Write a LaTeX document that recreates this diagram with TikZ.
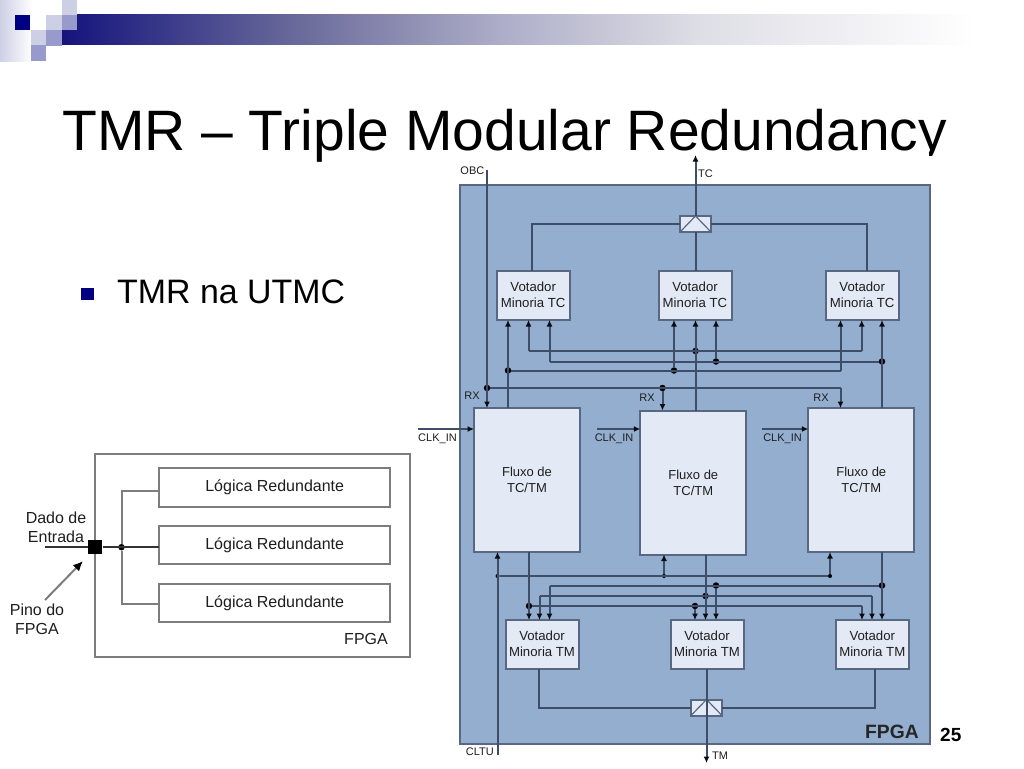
\documentclass[tikz,border=0pt]{standalone}
\usepackage{fontspec}
\setmainfont{Liberation Sans}
\usetikzlibrary{arrows.meta}
\definecolor{navyb}{RGB}{0,0,128}
\definecolor{g0}{RGB}{20,20,125}
\definecolor{g1}{RGB}{107,107,155}
\definecolor{g2}{RGB}{173,173,200}
\definecolor{g3}{RGB}{222,222,230}
\definecolor{paleb}{RGB}{205,207,229}
\definecolor{midb}{RGB}{152,154,204}
\definecolor{fpgab}{RGB}{148,174,208}
\definecolor{boxf}{RGB}{227,234,245}
\definecolor{wire}{RGB}{62,78,104}
\definecolor{boxl}{RGB}{88,104,130}
\definecolor{graywire}{RGB}{125,125,125}
\definecolor{txt}{RGB}{30,30,30}
\tikzset{
 box/.style={draw=boxl,line width=2pt,fill=boxf,inner sep=0pt,outer sep=0pt,align=center,text=txt},
 votetxt/.style={inner sep=0pt,align=center,text=txt,font=\fontsize{13.2}{16}\selectfont,yshift=1pt},
 votebox/.style={box,minimum width=73pt,minimum height=49pt},
 fluxbox/.style={box,minimum width=106pt,minimum height=144pt,font=\fontsize{13}{16}\selectfont},
 muxbox/.style={box,minimum width=31pt,minimum height=16pt},
 lab/.style={inner sep=0pt,text=txt,font=\fontsize{11}{12}\selectfont},
 wr/.style={draw=wire,line width=2pt},
 ar/.style={wr,-{Latex[length=6.5pt,width=6pt,color=black!85!wire]}},
 jn/.style={circle,fill=black,inner sep=0pt,minimum size=6.5pt},
 sj/.style={circle,fill=black,inner sep=0pt,minimum size=4pt},
 lrbox/.style={draw=graywire,line width=2pt,fill=white,inner sep=0pt,outer sep=0pt,minimum width=230.5pt,minimum height=38.5pt,text=txt,font=\fontsize{16}{18}\selectfont},
 ltxt/.style={inner sep=0pt,align=center,text=txt,font=\fontsize{16}{19.5}\selectfont},
 gw/.style={draw=graywire,line width=2pt},
 sq/.style={inner sep=0pt,minimum size=15.5pt,outer sep=0pt},
}
\begin{document}
\begin{tikzpicture}[x=1pt,y=-1pt]
\useasboundingbox (0,0) rectangle (1024,768);
\fill[white] (0,0) rectangle (1024,768);
% header
\shade[left color=paleb,right color=white] (0,0) rectangle (32,61);
\shade[left color=g0,right color=g1] (62,15) rectangle (300,45);
\shade[left color=g1,right color=g2] (300,15) rectangle (500,45);
\shade[left color=g2,right color=g3] (500,15) rectangle (700,45);
\shade[left color=g3,right color=white] (700,15) rectangle (975,45);
\node[sq,fill=navyb] (s1) at (22.5,22.5) {};
\node[sq,fill=white] (s0) at (38.5,22.5) {};
\node[sq,fill=paleb] (s2) at (54,22.5) {};
\node[sq,fill=paleb] (s3) at (69.5,7.5) {};
\node[sq,fill=midb] (s4) at (69.5,22.5) {};
\node[sq,fill=paleb] (s5) at (38.5,38) {};
\node[sq,fill=midb] (s6) at (54,38) {};
\node[sq,fill=midb] (s7) at (38.5,53) {};
% title
\node[anchor=base west,inner sep=0pt,font=\fontsize{57}{60}\selectfont] (title) at (62,150) {TMR – Triple Modular Redundancy};
\node[sq,fill=navyb,minimum size=12.5pt] (bul) at (87.5,294) {};
\node[anchor=base west,inner sep=0pt,font=\fontsize{33.9}{38}\selectfont] (tmr) at (117,303) {TMR na UTMC};
% white cover of picture
\fill[white] (430,153) rectangle (928.5,185);
\fill[white] (928.5,155.5) rectangle (945,185);
% ===== right diagram
\draw[draw=boxl,line width=2pt,fill=fpgab] (460,185) rectangle (930,744);
\node[anchor=base east,inner sep=0pt,font=\bfseries\fontsize{19.3}{20}\selectfont,text=black!85] (fpgal) at (919,738) {FPGA};
\node[anchor=base west,inner sep=0pt,font=\bfseries\fontsize{19}{20}\selectfont] (pg) at (940,741) {25};
\node[votebox,label={[votetxt]center:Votador\\Minoria TC}] (tc1) at (533.2,295.5) {};
\node[votebox,label={[votetxt]center:Votador\\Minoria TC}] (tc2) at (695,295.5) {};
\node[votebox,label={[votetxt]center:Votador\\Minoria TC}] (tc3) at (862.2,295.5) {};
\node[fluxbox] (f1) at (527,480) {Fluxo de\\TC/TM};
\node[fluxbox] (f2) at (693.3,482.5) {Fluxo de\\TC/TM};
\node[fluxbox] (f3) at (861.3,480) {Fluxo de\\TC/TM};
\node[votebox,label={[votetxt]center:Votador\\Minoria TM}] (tm1) at (542,644.5) {};
\node[votebox,label={[votetxt]center:Votador\\Minoria TM}] (tm2) at (707,644.5) {};
\node[votebox,label={[votetxt]center:Votador\\Minoria TM}] (tm3) at (872.3,644.5) {};
\node[muxbox] (mc) at (695.5,224) {};
\node[muxbox] (mm) at (706.5,707.5) {};
% mux triangles
\draw[draw=boxl,line width=1.2pt] (mc.south west) -- (mc.north) -- (mc.south east);
\draw[draw=boxl,line width=1.2pt] (mm.south west) -- (mm.north) -- (mm.south east);
% free ends
\coordinate (tcend) at (695.5,155);
\coordinate (tmend) at (706.5,763);
\coordinate (obc) at (487,170);
\coordinate (cltu) at (497.5,755);
\coordinate (ck1) at (418,429);
\coordinate (ck2) at (597,429);
\coordinate (ck3) at (762,429);
% TC output network
\draw[ar] (mc.north) -- (tcend);
\draw[wr] (tc2.north -| mc) -- (mc.south);
\draw[wr] (tc1.north -| 532,0) |- (mc.west);
\draw[wr] (tc3.north -| 867,0) |- (mc.east);
% top junctions
\node[jn] (a1) at (508,370.5) {};
\node[jn] (a2) at (674,370.5) {};
\node[jn] (b1) at (695.5,351) {};
\node[jn] (c1) at (716,361.5) {};
\node[jn] (c2) at (882,361.5) {};
\node[jn] (r0) at (487,388) {};
\node[jn] (r1) at (662.5,388) {};
\coordinate (a3) at (840.5,370.5);
\coordinate (b0) at (528.5,351);
\coordinate (b2) at (861.7,351);
\coordinate (c0) at (549.5,361.5);
\coordinate (r2) at (840.5,388);
% buses
\draw[wr] (a1) -- (a3);
\draw[wr] (b0) -- (b2);
\draw[wr] (c0) -- (c2);
\draw[wr] (r0) -- (r2);
% vote TC inputs
\draw[ar] (f1.north -| a1) -- (tc1.south -| a1);
\draw[ar] (b0) -- (tc1.south -| b0);
\draw[ar] (c0) -- (tc1.south -| c0);
\draw[ar] (a2) -- (tc2.south -| a2);
\draw[ar] (f2.north -| b1) -- (tc2.south -| b1);
\draw[ar] (c1) -- (tc2.south -| c1);
\draw[ar] (a3) -- (tc3.south -| a3);
\draw[ar] (b2) -- (tc3.south -| b2);
\draw[ar] (f3.north -| c2) -- (tc3.south -| c2);
% RX
\draw[ar] (obc) -- (f1.north -| obc);
\draw[ar] (r1) -- (f2.north -| r1);
\draw[ar] (r2) -- (f3.north -| r2);
\node[lab,anchor=east] (lobc) at (484.5,170.5) {OBC};
\node[lab,anchor=west] (ltc) at (698,173.5) {TC};
\node[lab] (rx1) at (472,396) {RX};
\node[lab] (rx2) at (647,397.5) {RX};
\node[lab] (rx3) at (821,397.5) {RX};
% CLK
\draw[ar] (ck1) -- (f1.west |- ck1);
\draw[ar] (ck2) -- (f2.west |- ck2);
\draw[ar] (ck3) -- (f3.west |- ck3);
\node[lab] (ckl1) at (437.5,439) {CLK\_IN};
\node[lab] (ckl2) at (614,439) {CLK\_IN};
\node[lab] (ckl3) at (782.5,439) {CLK\_IN};
% CLTU
\node[sj] (u0) at (497.5,576) {};
\node[sj] (u1) at (664,576) {};
\node[sj] (u2) at (830,576) {};
\draw[ar] (cltu) -- (f1.south -| cltu);
\draw[wr] (u0) -- (u2);
\draw[ar] (u1) -- (f2.south -| u1);
\draw[ar] (u2) -- (f3.south -| u2);
\node[lab,anchor=east] (lcltu) at (494,752) {CLTU};
\node[lab,anchor=west] (ltm) at (712,756) {TM};
% bottom junctions
\node[jn] (d1) at (529,606) {};
\node[jn] (d2) at (695,606) {};
\coordinate (d3) at (862,606);
\coordinate (e1) at (539.5,596);
\node[jn] (e2) at (705.5,596) {};
\coordinate (e3) at (872,596);
\coordinate (g1) at (549.5,585.5);
\node[jn] (g2) at (716,585.5) {};
\node[jn] (g3) at (882,585.5) {};
\draw[wr] (d1) -- (d3);
\draw[wr] (e1) -- (e3);
\draw[wr] (g1) -- (g3);
\draw[ar] (f1.south -| d1) -- (tm1.north -| d1);
\draw[ar] (e1) -- (tm1.north -| e1);
\draw[ar] (g1) -- (tm1.north -| g1);
\draw[ar] (d2) -- (tm2.north -| d2);
\draw[ar] (f2.south -| e2) -- (tm2.north -| e2);
\draw[ar] (g2) -- (tm2.north -| g2);
\draw[ar] (d3) -- (tm3.north -| d3);
\draw[ar] (e3) -- (tm3.north -| e3);
\draw[ar] (f3.south -| g3) -- (tm3.north -| g3);
% TM output
\draw[ar] (tm2.south -| mm) -- (tmend);
\draw[wr] (tm1.south -| 538.5,0) |- (mm.west);
\draw[wr] (tm3.south -| 875,0) |- (mm.east);
% ===== left diagram
\draw[gw] (94.5,453.5) rectangle (409.5,657);
\node[lrbox] (l1) at (274.7,487.7) {Lógica Redundante};
\node[lrbox] (l2) at (274.7,545.2) {Lógica Redundante};
\node[lrbox] (l3) at (274.7,603) {Lógica Redundante};
\node[fill=black,inner sep=0pt,minimum size=14.5pt] (pin) at (95.2,547.2) {};
\node[jn] (sp) at (121.5,547.2) {};
\coordinate (din) at (45,547.2);
\coordinate (pinfree) at (45,600);
\coordinate (pinhead) at (83,561);
\draw[draw=black!80,line width=2pt] (din) -- (pin);
\draw[draw=black!80,line width=2pt] (pin) -- (pin -| l2.west);
\draw[gw] (l1.west |- 0,491) -| (sp);
\draw[gw] (l3.west |- 0,604) -| (sp);
\draw[gw,-{Latex[length=10pt,width=9pt,color=black]}] (pinfree) -- (pinhead);
\node[ltxt] (dado) at (56,527.5) {Dado de\\Entrada};
\node[ltxt] (pino) at (37,619.5) {Pino do\\FPGA};
\node[ltxt] (lfpga) at (366,639) {FPGA};
\end{tikzpicture}
\end{document}
